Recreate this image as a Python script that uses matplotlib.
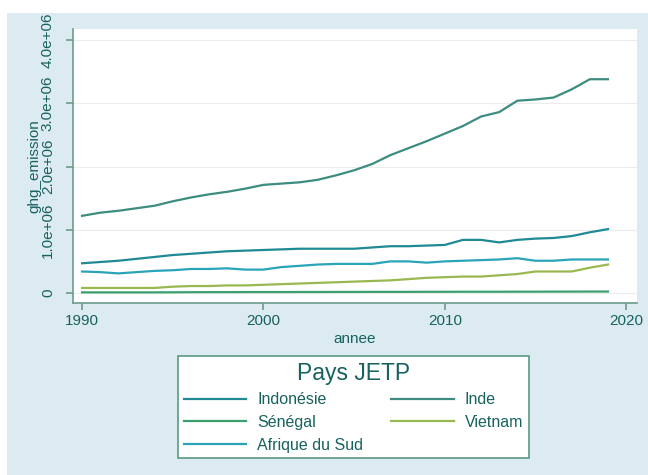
import matplotlib.pyplot as plt
from matplotlib.patches import Rectangle

# Données (émissions en millions, années 1990-2019)
annees = list(range(1990, 2020))
indonesie = [0.47, 0.49, 0.51, 0.54, 0.57, 0.60, 0.62, 0.64, 0.66, 0.67,
             0.68, 0.69, 0.70, 0.70, 0.70, 0.70, 0.72, 0.74, 0.74, 0.75,
             0.76, 0.84, 0.84, 0.80, 0.84, 0.86, 0.87, 0.90, 0.96, 1.01]
inde = [1.22, 1.27, 1.30, 1.34, 1.38, 1.45, 1.51, 1.56, 1.60, 1.65,
        1.71, 1.73, 1.75, 1.79, 1.86, 1.94, 2.04, 2.18, 2.29, 2.40,
        2.52, 2.64, 2.79, 2.86, 3.04, 3.06, 3.09, 3.22, 3.38, 3.38]
senegal = [0.010, 0.010, 0.010, 0.010, 0.010, 0.011, 0.013, 0.014, 0.014, 0.015,
           0.015, 0.015, 0.016, 0.016, 0.017, 0.017, 0.018, 0.018, 0.018, 0.019,
           0.019, 0.020, 0.020, 0.020, 0.021, 0.021, 0.022, 0.022, 0.023, 0.023]
vietnam = [0.08, 0.08, 0.08, 0.08, 0.08, 0.10, 0.11, 0.11, 0.12, 0.12,
           0.13, 0.14, 0.15, 0.16, 0.17, 0.18, 0.19, 0.20, 0.22, 0.24,
           0.25, 0.26, 0.26, 0.28, 0.30, 0.34, 0.34, 0.34, 0.40, 0.45]
afrique_sud = [0.34, 0.33, 0.31, 0.33, 0.35, 0.36, 0.38, 0.38, 0.39, 0.37,
               0.37, 0.41, 0.43, 0.45, 0.46, 0.46, 0.46, 0.50, 0.50, 0.48,
               0.50, 0.51, 0.52, 0.53, 0.55, 0.51, 0.51, 0.53, 0.53, 0.53]

pays = ['Indonésie', 'Inde', 'Sénégal', 'Vietnam', 'Afrique du Sud']
series = [indonesie, inde, senegal, vietnam, afrique_sud]
couleurs = ['#1f8a94', '#3d8c80', '#3aa070', '#9ab850', '#2aa4b8']

xticks = [1990, 2000, 2010, 2020]
yticks = [0, 1e6, 2e6, 3e6, 4e6]

txt = '#17625e'
axe = '#6b9c8c'
plt.rcParams['font.family'] = ['Liberation Sans', 'DejaVu Sans']

fig = plt.figure(figsize=(6.48, 4.75), dpi=100)
fig.patch.set_facecolor('white')

# Fond bleu clair (style Stata)
fig.patches.append(Rectangle((7 / 648, 0), 641 / 648, 462 / 475,
                             transform=fig.transFigure, facecolor='#dceaf1',
                             edgecolor='none', zorder=-10))
# masque blanc en haut (coupe le label 4.0e+06)
fig.patches.append(Rectangle((0, 1 - 13 / 475), 1, 13 / 475,
                             transform=fig.transFigure, facecolor='white',
                             edgecolor='none', zorder=10))

ax = fig.add_axes([73 / 648, 172 / 475, 564 / 648, 274 / 475])
ax.set_facecolor('white')

lignes = {}
for nom, vals, c in zip(pays, series, couleurs):
    l, = ax.plot(annees, [v * 1e6 for v in vals], color=c, lw=1.6, label=nom)
    lignes[nom] = l

ax.set_xlim(1989.5, 2020.6)
ax.set_ylim(-0.158e6, 4.174e6)
ax.set_xticks(xticks)
ax.set_yticks(yticks)
ax.set_yticklabels(['0' if v == 0 else '%.1e' % v for v in yticks],
                   rotation=90, va='center')
ax.grid(axis='y', color='#ececec', lw=0.8)
ax.set_axisbelow(True)

for s in ['top', 'right']:
    ax.spines[s].set_visible(False)
for s in ['left', 'bottom']:
    ax.spines[s].set_color(axe)
    ax.spines[s].set_linewidth(1.2)
ax.tick_params(axis='both', colors=axe, labelcolor=txt, labelsize=11,
               length=5, width=1.2)
ax.tick_params(axis='y', pad=8)
ax.tick_params(axis='x', pad=3)

ax.set_xlabel('annee', color=txt, fontsize=11, labelpad=3)
ax.set_ylabel('ghg_emission', color=txt, fontsize=11, labelpad=0)

# Légende sur 2 colonnes (ordre en lignes comme Stata)
ordre = ['Indonésie', 'Sénégal', 'Afrique du Sud', 'Inde', 'Vietnam']
leg = fig.legend([lignes[n] for n in ordre], ordre, ncol=2,
                 loc='upper center', bbox_to_anchor=(0.5455, 1 - 356 / 475),
                 borderaxespad=0, framealpha=1,
                 title='Pays JETP', fontsize=11.5, title_fontsize=16.5,
                 frameon=True, fancybox=False, handlelength=3.9,
                 handletextpad=0.7, columnspacing=1.75, labelspacing=0.48,
                 borderpad=0.35)
leg.get_frame().set_facecolor('white')
leg.get_frame().set_edgecolor('#5a9a80')
leg.get_frame().set_linewidth(1.2)
leg.get_title().set_color(txt)
for t in leg.get_texts():
    t.set_color(txt)

plt.savefig('out.png', dpi=100)
